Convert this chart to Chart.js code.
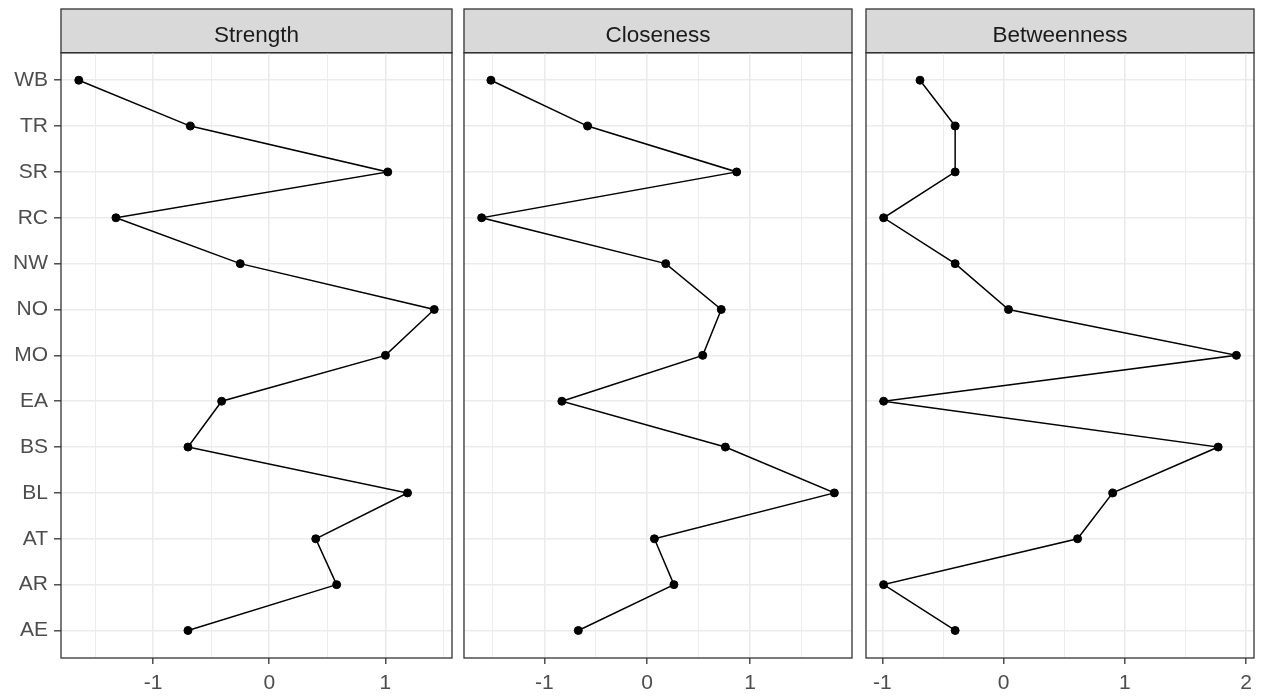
<!DOCTYPE html>
<html>
<head>
<meta charset="utf-8">
<script src="https://cdn.jsdelivr.net/npm/chart.js@4.4.0/dist/chart.umd.min.js"></script>
<style>
  html, body { margin: 0; padding: 0; background: #fff; }
  #wrap { position: relative; width: 1265px; height: 698px; }
  .panel { position: absolute; top: 0; height: 698px; }
</style>
</head>
<body>
<div id="wrap">
  <div class="panel" style="left:0;width:458px"><canvas id="p1"></canvas></div>
  <div class="panel" style="left:458px;width:400px"><canvas id="p2"></canvas></div>
  <div class="panel" style="left:858px;width:407px"><canvas id="p3"></canvas></div>
</div>
<script>
// Nodos, de arriba hacia abajo
const nodos = ['WB', 'TR', 'SR', 'RC', 'NW', 'NO', 'MO', 'EA', 'BS', 'BL', 'AT', 'AR', 'AE'];

// Valores estandarizados de cada medida de centralidad
const strength    = [-1.64, -0.68, 1.02, -1.32, -0.25, 1.42, 1.00, -0.41, -0.70, 1.19, 0.40, 0.58, -0.70];
const closeness   = [-1.52, -0.58, 0.87, -1.61, 0.18, 0.72, 0.54, -0.83, 0.76, 1.82, 0.07, 0.26, -0.67];
const betweenness = [-0.69, -0.40, -0.40, -0.99, -0.40, 0.04, 1.92, -0.99, 1.77, 0.90, 0.61, -0.99, -0.40];

const paneles = ['Strength', 'Closeness', 'Betweenness'];

const FUENTE = "'Liberation Sans', Arial, sans-serif";
const GRIS_GRID = '#EBEBEB';
const GRIS_BORDE = '#333333';

// Dibuja la franja gris del titulo y el marco del panel, como en ggplot
const marcoPanel = {
    id: 'marcoPanel',
    beforeDraw(chart) {
        const { ctx, chartArea: a } = chart;
        const t = chart.titleBlock;
        ctx.save();
        ctx.fillStyle = '#D9D9D9';
        ctx.fillRect(a.left, t.top, a.right - a.left, a.top - t.top);
        ctx.strokeStyle = GRIS_BORDE;
        ctx.lineWidth = 1.3;
        ctx.strokeRect(a.left, t.top, a.right - a.left, a.top - t.top);
        ctx.restore();
    },
    afterDraw(chart) {
        const { ctx, chartArea: a } = chart;
        ctx.save();
        ctx.strokeStyle = GRIS_BORDE;
        ctx.lineWidth = 1.3;
        ctx.strokeRect(a.left, a.top, a.right - a.left, a.bottom - a.top);
        ctx.restore();
    }
};

function crearPanel(id, titulo, valores, conEjeY, padIzq, padDer) {
    const minV = Math.min(...valores);
    const maxV = Math.max(...valores);
    const exp = (maxV - minV) * 0.05;

    const ctx = document.getElementById(id).getContext('2d');
    return new Chart(ctx, {
        type: 'line',
        data: {
            datasets: [{
                data: valores.map((v, i) => ({ x: v, y: i })),
                borderColor: '#000',
                borderWidth: 1.5,
                pointRadius: 4,
                pointBorderWidth: 1,
                pointBackgroundColor: '#000',
                pointBorderColor: '#000',
                tension: 0
            }]
        },
        options: {
            responsive: true,
            maintainAspectRatio: false,
            animation: false,
            events: [],
            layout: { padding: { top: 9, left: padIzq, right: padDer, bottom: 0 } },
            plugins: {
                legend: { display: false },
                tooltip: { enabled: false },
                title: {
                    display: true,
                    text: titulo,
                    fullSize: false,
                    color: '#1A1A1A',
                    font: { family: FUENTE, size: 22.5, weight: 'normal' },
                    padding: { top: 13.5, bottom: 3.2 }
                }
            },
            scales: {
                x: {
                    type: 'linear',
                    min: minV - exp,
                    max: maxV + exp,
                    afterBuildTicks(scale) {
                        const ticks = [];
                        for (let v = Math.ceil(scale.min * 2) / 2; v <= scale.max; v += 0.5) {
                            ticks.push({ value: v });
                        }
                        scale.ticks = ticks;
                    },
                    afterFit(scale) { scale.height = 40; },
                    border: { display: false },
                    grid: {
                        color: GRIS_GRID,
                        lineWidth: c => (c.tick && Number.isInteger(c.tick.value)) ? 1.6 : 0.9,
                        tickColor: c => (c.tick && Number.isInteger(c.tick.value)) ? GRIS_BORDE : 'rgba(0,0,0,0)',
                        tickLength: 6,
                        tickWidth: 1.3
                    },
                    ticks: {
                        autoSkip: false,
                        maxRotation: 0,
                        padding: 7,
                        color: '#4D4D4D',
                        font: { family: FUENTE, size: 21 },
                        callback: v => Number.isInteger(v) ? String(v) : ''
                    }
                },
                y: {
                    type: 'linear',
                    reverse: true,
                    min: -0.6,
                    max: nodos.length - 1 + 0.6,
                    afterBuildTicks(scale) {
                        scale.ticks = nodos.map((n, i) => ({ value: i }));
                    },
                    afterFit(scale) { scale.width = conEjeY ? 61 : 0; },
                    border: { display: false },
                    grid: {
                        color: GRIS_GRID,
                        lineWidth: 1.6,
                        drawTicks: conEjeY,
                        tickColor: GRIS_BORDE,
                        tickLength: 7,
                        tickWidth: 1.3
                    },
                    ticks: {
                        display: conEjeY,
                        autoSkip: false,
                        padding: 6,
                        color: '#4D4D4D',
                        font: { family: FUENTE, size: 21 },
                        callback: v => nodos[v]
                    }
                }
            }
        },
        plugins: [marcoPanel]
    });
}

crearPanel('p1', paneles[0], strength, true, 0, 6);
crearPanel('p2', paneles[1], closeness, false, 6, 6);
crearPanel('p3', paneles[2], betweenness, false, 8, 11);
</script>
</body>
</html>
